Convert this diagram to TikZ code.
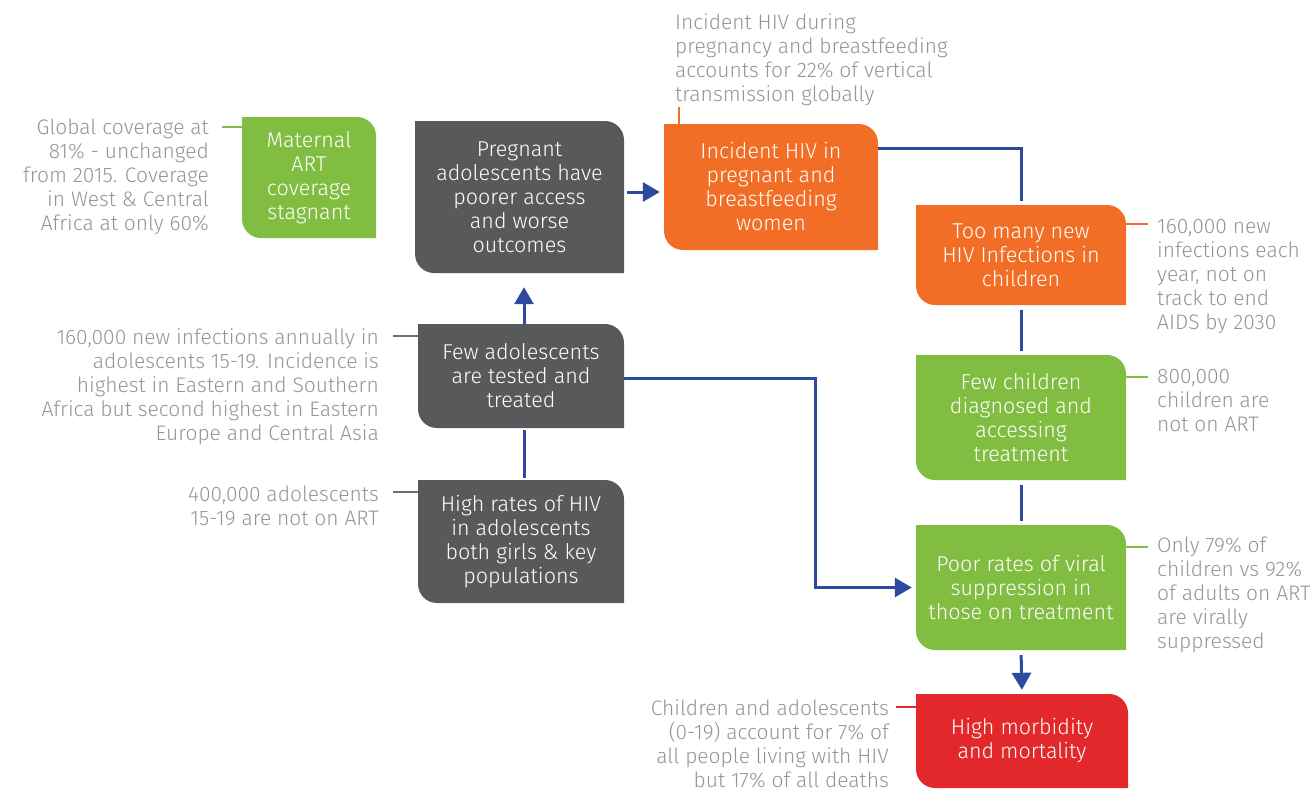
\documentclass[tikz,border=0pt]{standalone}
\usepackage{fontspec}
\setmainfont{Fira Sans Light}
\usetikzlibrary{arrows.meta}
\definecolor{cgreen}{HTML}{80BD41}
\definecolor{cgray}{HTML}{58595B}
\definecolor{corange}{HTML}{F26D26}
\definecolor{cred}{HTML}{E2282A}
\definecolor{cblue}{HTML}{2E4A9F}
\definecolor{ctext}{HTML}{939598}
\definecolor{cline}{HTML}{6D6E71}
\newcommand{\R}{19pt}
\tikzset{
  box/.style={draw=none, inner sep=0pt, align=center, text=white,
    font=\fontsize{21.5}{24}\selectfont,
    path picture={\fill[#1]
      (path picture bounding box.north west) --
      ([xshift=-\R]path picture bounding box.north east)
        arc[start angle=90,end angle=0,radius=\R] --
      (path picture bounding box.south east) --
      ([xshift=\R]path picture bounding box.south west)
        arc[start angle=270,end angle=180,radius=\R] -- cycle;}},
  note/.style={inner sep=0pt, text=ctext, font=\fontsize{21}{24}\selectfont},
  notel/.style={note, align=left},
  noter/.style={note, align=right},
  conn/.style={draw=cblue, line width=3pt},
  arr/.style={conn, -{Triangle[width=19pt,length=17pt]}},
  tick/.style={line width=1.5pt}
}
\begin{document}
\begin{tikzpicture}[x=1pt,y=-1pt]
\useasboundingbox (0,0) rectangle (1314,790);
% boxes
\node[box=cgreen, minimum width=134pt, minimum height=121pt] (mat) at (309,177.5)
  {Maternal\\ART\\coverage\\stagnant};
\node[box=cgray, minimum width=209pt, minimum height=152pt] (preg) at (519.5,197)
  {Pregnant\\adolescents have\\poorer access\\and worse\\outcomes};
\node[box=corange, minimum width=214pt, minimum height=126pt] (inc) at (771,187)
  {Incident HIV in\\pregnant and\\breastfeeding\\women};
\node[box=corange, minimum width=210pt, minimum height=100pt] (too) at (1021,255)
  {Too many new\\HIV Infections in\\children};
\node[box=cgreen, minimum width=210pt, minimum height=125pt] (fewc) at (1021,417.5)
  {Few children\\diagnosed and\\accessing\\treatment};
\node[box=cgreen, minimum width=210pt, minimum height=125pt] (poor) at (1021,587.5)
  {Poor rates of viral\\suppression in\\those on treatment};
\node[box=cred, minimum width=212pt, minimum height=94pt] (high) at (1022,741)
  {High morbidity\\and mortality};
\node[box=cgray, minimum width=206pt, minimum height=104pt] (fewa) at (521,376)
  {Few adolescents\\are tested and\\treated};
\node[box=cgray, minimum width=206pt, minimum height=123pt] (hrate) at (521,541.5)
  {High rates of HIV\\in adolescents\\both girls \& key\\populations};
% notes
\node[noter, anchor=north east] (n1) at (209,119)
  {Global coverage at\\81\% - unchanged\\from 2015. Coverage\\in West \& Central\\Africa at only 60\%};
\node[notel, anchor=north west] (n2) at (675,13)
  {Incident HIV during\\pregnancy and breastfeeding\\accounts for 22\% of vertical\\transmission globally};
\node[notel, anchor=north west] (n3) at (1157,219)
  {160,000 new\\infections each\\year, not on\\track to end\\AIDS by 2030};
\node[notel, anchor=north west] (n4) at (1157,369)
  {800,000\\children are\\not on ART};
\node[notel, anchor=north west] (n5) at (1157,537)
  {Only 79\% of\\children vs 92\%\\of adults on ART\\are virally\\suppressed};
\node[noter, anchor=north east] (n6) at (889,699)
  {Children and adolescents\\(0-19) account for 7\% of\\all people living with HIV\\but 17\% of all deaths};
\node[noter, anchor=north east] (n7) at (379,328)
  {160,000 new infections annually in\\adolescents 15-19. Incidence is\\highest in Eastern and Southern\\Africa but second highest in Eastern\\Europe and Central Asia};
\node[noter, anchor=north east] (n8) at (379,486)
  {400,000 adolescents\\15-19 are not on ART};
% note ticks
\coordinate (t1) at (222,127);
\draw[tick, cgreen] (t1) -- (t1 -| mat.west);
\coordinate (t2) at (679,107);
\draw[tick, corange] (t2) -- (t2 |- inc.north);
\coordinate (t3) at (1148,224);
\draw[tick, corange] (t3) -- (t3 -| too.east);
\coordinate (t4) at (1148,377);
\draw[tick, cgreen] (t4) -- (t4 -| fewc.east);
\coordinate (t5) at (1148,547);
\draw[tick, cgreen] (t5) -- (t5 -| poor.east);
\coordinate (t6) at (896,707);
\draw[tick, cred] (t6) -- (t6 -| high.west);
\coordinate (t7) at (393,336);
\draw[tick, cline] (t7) -- (t7 -| fewa.west);
\coordinate (t8) at (393,492);
\draw[tick, cline] (t8) -- (t8 -| hrate.west);
% connectors
\draw[arr, shorten <=3pt, shorten >=4pt] ([yshift=5pt]preg.east) -- ([yshift=5pt]preg.east -| inc.west);
\draw[conn, shorten >=4pt] ([yshift=38.5pt]inc.east) -| (too.north);
\draw[conn, shorten <=5pt, shorten >=4pt] (too.south) -- (fewc.north);
\draw[conn, shorten <=5pt, shorten >=4pt] (fewc.south) -- (poor.north);
\draw[arr, shorten <=5pt, shorten >=4pt] (poor.south) -- (high.north);
\draw[arr, shorten >=14pt] ([xshift=3pt]fewa.north) -- ([xshift=3pt]fewa.north |- preg.south);
\draw[conn, shorten <=2pt, shorten >=2pt] ([xshift=3pt]hrate.north) -- ([xshift=3pt]fewa.south);
\coordinate (bend) at (815,0);
\draw[arr, shorten >=4pt] ([yshift=-2pt]fewa.east) -| (bend |- poor.west) -- (poor.west);
\end{tikzpicture}
\end{document}
